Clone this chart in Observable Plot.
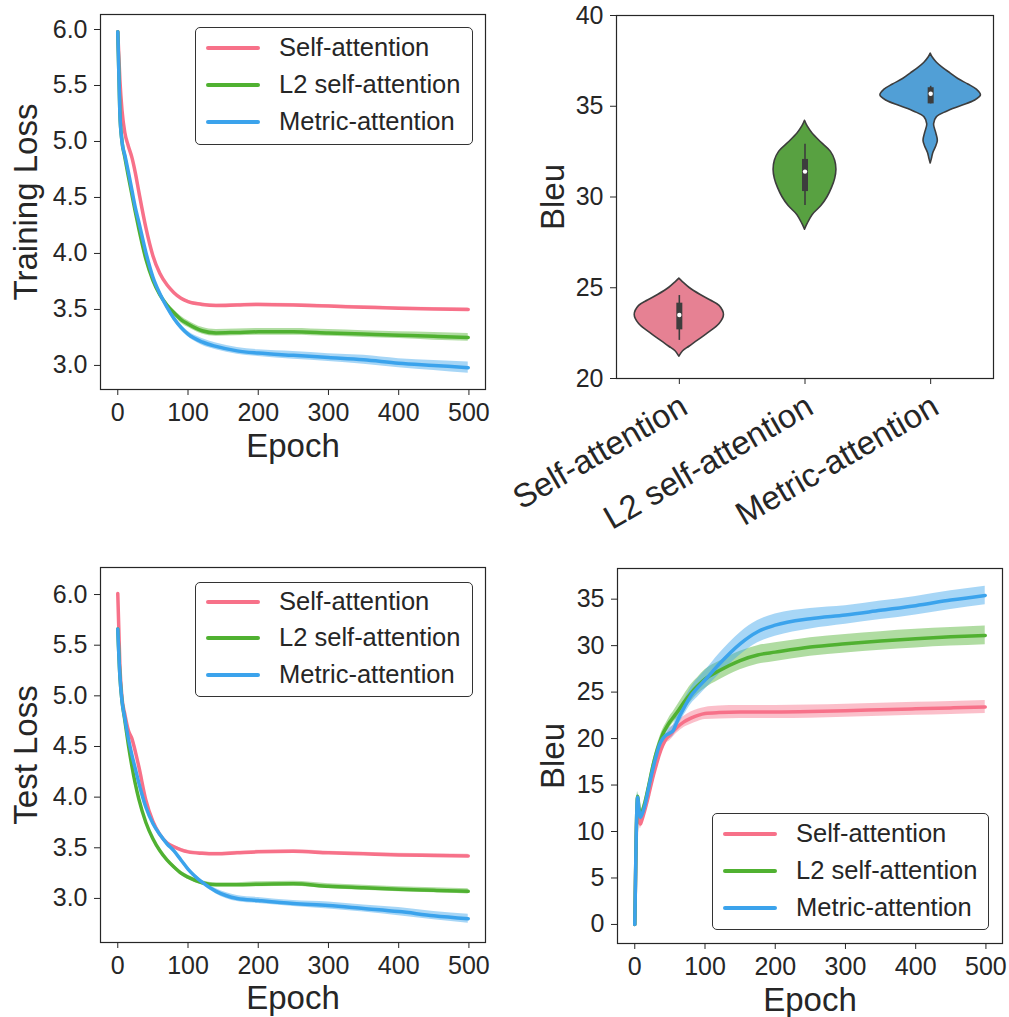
<!DOCTYPE html>
<html><head><meta charset="utf-8">
<script src="https://cdn.jsdelivr.net/npm/d3@7"></script>
<script src="https://cdn.jsdelivr.net/npm/@observablehq/plot@0.6"></script>
<style>
body{margin:0;background:#fff;}
#root{position:relative;width:1009px;height:1017px;overflow:hidden;font-family:"Liberation Sans",Arial,sans-serif;}
.panel{position:absolute;}
.legend{position:absolute;box-sizing:border-box;border:1.3px solid #333;border-radius:5px;background:rgba(255,255,255,0.85);}
.legend .sw{position:absolute;height:4px;margin-top:-2px;border-radius:2px;}
.legend .lab{position:absolute;font-size:25.5px;color:#262626;white-space:nowrap;line-height:1;transform:translateY(-50%);}
</style></head><body><div id="root"></div>
<script>
// ---------------- data ----------------
const seriesNames = ["Self-attention", "L2 self-attention", "Metric-attention"];
const seriesColors = ["#f77189", "#50b131", "#3ba3ec"];
const violinFills = ["#e68193", "#58a141", "#519fd6"];

const epochTicks = [0, 100, 200, 300, 400, 500];
const lossTicks = [3.0, 3.5, 4.0, 4.5, 5.0, 5.5, 6.0];
const bleuTicks = [0, 5, 10, 15, 20, 25, 30, 35];
const violinTicks = [20, 25, 30, 35, 40];

// Training loss
const trainEpochs = [0,3,6,10,15,20,25,30,40,50,60,70,80,90,100,120,140,170,200,250,300,350,400,450,499];
const trainSelf   = [5.98,5.55,5.28,5.08,4.96,4.86,4.72,4.55,4.23,3.98,3.82,3.72,3.65,3.60,3.57,3.545,3.535,3.54,3.545,3.54,3.53,3.52,3.51,3.505,3.50];
const trainL2     = [5.98,5.25,5.00,4.86,4.69,4.53,4.37,4.22,3.95,3.76,3.63,3.54,3.47,3.41,3.37,3.31,3.29,3.295,3.30,3.30,3.29,3.28,3.27,3.26,3.25];
const trainMetric = [5.98,5.25,5.00,4.88,4.73,4.57,4.41,4.28,4.01,3.79,3.64,3.52,3.42,3.34,3.28,3.21,3.17,3.13,3.11,3.09,3.07,3.05,3.02,3.00,2.98];
const trainSelfSd   = [0.01,0.01,0.01,0.01,0.01,0.01,0.01,0.01,0.012,0.012,0.012,0.012,0.012,0.012,0.012,0.012,0.012,0.012,0.012,0.012,0.012,0.012,0.012,0.012,0.012];
const trainL2Sd     = [0.01,0.01,0.01,0.01,0.01,0.01,0.01,0.01,0.015,0.02,0.02,0.025,0.025,0.03,0.03,0.03,0.03,0.03,0.03,0.03,0.03,0.03,0.03,0.035,0.035];
const trainMetricSd = [0.01,0.01,0.01,0.01,0.01,0.01,0.01,0.01,0.015,0.02,0.02,0.02,0.025,0.025,0.025,0.03,0.03,0.03,0.03,0.035,0.035,0.04,0.04,0.045,0.05];

// Test loss
const testEpochs = [0,3,6,10,15,20,25,30,40,50,60,70,80,90,100,120,140,170,200,250,300,350,400,450,499];
const testSelf   = [6.01,5.30,4.98,4.82,4.66,4.58,4.45,4.30,3.97,3.76,3.63,3.55,3.51,3.48,3.46,3.445,3.44,3.45,3.46,3.465,3.45,3.44,3.43,3.425,3.42];
const testL2     = [5.66,5.20,4.95,4.76,4.52,4.31,4.13,3.98,3.75,3.59,3.47,3.38,3.31,3.25,3.21,3.155,3.135,3.135,3.14,3.145,3.12,3.105,3.09,3.08,3.07];
const testMetric = [5.66,5.20,4.95,4.78,4.58,4.42,4.28,4.14,3.90,3.74,3.63,3.54,3.47,3.38,3.29,3.16,3.07,3.00,2.98,2.95,2.93,2.90,2.87,2.83,2.80];
const testSelfSd   = [0.01,0.01,0.01,0.01,0.01,0.01,0.01,0.01,0.015,0.015,0.015,0.015,0.015,0.015,0.015,0.015,0.015,0.015,0.015,0.015,0.015,0.015,0.015,0.015,0.015];
const testL2Sd     = [0.01,0.01,0.01,0.01,0.01,0.01,0.01,0.01,0.012,0.015,0.015,0.015,0.02,0.02,0.02,0.02,0.02,0.02,0.025,0.025,0.025,0.025,0.025,0.025,0.025];
const testMetricSd = [0.01,0.01,0.01,0.01,0.01,0.01,0.01,0.01,0.012,0.015,0.015,0.015,0.02,0.02,0.02,0.02,0.025,0.03,0.03,0.03,0.035,0.035,0.04,0.04,0.045];

// Bleu over epochs
const bleuEpochs = [0,2,4,6,8,10,15,20,25,30,35,40,45,50,55,60,70,80,90,100,120,150,175,200,250,300,350,400,450,499];
const bleuSelf   = [0,9.0,12.5,11.5,10.8,11.2,12.5,14.0,15.6,17.0,18.3,19.3,20.0,20.4,20.8,21.2,21.8,22.2,22.5,22.7,22.8,22.85,22.85,22.85,22.9,23.0,23.1,23.2,23.3,23.4];
const bleuL2     = [0,9.5,13.8,12.5,11.8,12.0,13.3,15.0,16.8,18.3,19.5,20.5,21.2,21.8,22.3,22.8,23.9,24.9,25.7,26.4,27.3,28.4,29.0,29.3,29.85,30.2,30.5,30.75,30.95,31.1];
const bleuMetric = [0,9.5,13.7,12.3,11.5,11.8,13.0,14.8,16.5,18.0,19.3,20.0,20.4,20.6,20.9,21.8,23.3,24.6,25.5,26.3,28.0,30.2,31.5,32.2,32.9,33.3,33.8,34.3,34.9,35.4];
const bleuSelfSd   = [0,0.3,0.5,0.5,0.5,0.5,0.5,0.5,0.5,0.5,0.5,0.5,0.5,0.6,0.6,0.6,0.6,0.65,0.65,0.65,0.7,0.7,0.7,0.7,0.7,0.7,0.7,0.7,0.7,0.7];
const bleuL2Sd     = [0,0.3,0.5,0.5,0.5,0.5,0.5,0.5,0.5,0.5,0.5,0.5,0.5,0.6,0.6,0.7,0.8,0.9,0.9,1.0,1.0,1.0,1.0,1.0,1.0,1.0,1.0,1.0,1.0,1.0];
const bleuMetricSd = [0,0.3,0.5,0.5,0.5,0.5,0.5,0.5,0.5,0.5,0.5,0.5,0.5,0.6,0.6,0.7,0.8,0.9,1.0,1.0,1.1,1.2,1.2,1.2,1.1,1.0,1.0,1.0,1.0,1.0];

// Violin (final Bleu distribution): density profile (value, half-width in category units)
const violinY = [
  [21.2,21.5,21.75,22.0,22.5,23.0,23.5,24.0,24.3,24.6,25.0,25.3,25.5],
  [28.2,28.5,29.0,29.5,30.0,30.5,31.0,31.5,32.0,32.5,33.0,33.5,33.9,34.2],
  [31.85,32.1,32.4,32.8,33.1,33.5,34.0,34.4,34.7,35.0,35.3,35.6,35.9,36.2,36.5,36.8,37.1,37.4,37.7,37.9]
];
const violinW = [
  [0,0.03,0.08,0.13,0.23,0.32,0.355,0.32,0.25,0.17,0.08,0.03,0],
  [0,0.02,0.06,0.13,0.18,0.215,0.24,0.25,0.24,0.205,0.13,0.06,0.02,0],
  [0,0.01,0.02,0.045,0.057,0.045,0.027,0.05,0.13,0.24,0.35,0.40,0.37,0.30,0.22,0.16,0.10,0.05,0.015,0]
];
const violinQ1 = [22.68, 30.3, 35.13];
const violinQ3 = [24.15, 32.07, 36.02];
const violinMedian = [23.5, 31.4, 35.69];
const violinLo = [22.1, 29.53, 35.13];
const violinHi = [24.57, 32.9, 36.1];

// ---------------- drawing ----------------
const FONT = '"Liberation Sans", Arial, sans-serif';
const INK = "#262626";
const epochDomain = [-24.6, 523.6];
const root = document.getElementById("root");

function buildRows(epochs, vals, sds) {
  const rows = [];
  seriesNames.forEach((s, k) => {
    epochs.forEach((e, i) => rows.push({series: s, epoch: e, value: vals[k][i], lo: vals[k][i] - sds[k][i], hi: vals[k][i] + sds[k][i]}));
  });
  return rows;
}

function place(el, left, top) {
  el.classList.add("panel");
  el.style.left = left + "px";
  el.style.top = top + "px";
  root.appendChild(el);
}

function yTitle(label, dx) {
  return Plot.text([label], {frameAnchor: "left", dx, rotate: -90, fontSize: 33, text: d => d, fill: INK, textAnchor: "middle", lineAnchor: "middle"});
}

function linePlot(o) {
  return Plot.plot({
    width: o.width, height: o.height,
    marginLeft: o.ml, marginRight: o.mr, marginTop: o.mt, marginBottom: o.mb,
    style: {fontFamily: FONT, color: INK, background: "transparent", overflow: "visible"},
    x: {domain: epochDomain},
    y: {domain: o.yDomain},
    color: {domain: seriesNames, range: seriesColors},
    marks: [
      Plot.areaY(o.rows, {x: "epoch", y1: "lo", y2: "hi", fill: "series", fillOpacity: 0.45, curve: "monotone-x"}),
      Plot.line(o.rows, {x: "epoch", y: "value", stroke: "series", strokeWidth: 3.5, curve: "monotone-x"}),
      Plot.frame({stroke: INK, strokeWidth: 1.2}),
      Plot.axisX(epochTicks, {tickSize: 6, tickPadding: 8, fontSize: 25, label: null, stroke: INK}),
      Plot.axisY(o.yTicks, {tickSize: 6, tickPadding: 7, fontSize: 25, label: null, stroke: INK, tickFormat: o.fmt}),
      yTitle(o.yLabel, o.ylx),
      Plot.text(["Epoch"], {frameAnchor: "bottom", dy: o.xly, fontSize: 33, text: d => d, fill: INK, textAnchor: "middle", lineAnchor: "middle"})
    ]
  });
}

function legend(left, top, w, h, rowYs) {
  const box = document.createElement("div");
  box.className = "legend";
  Object.assign(box.style, {left: left + "px", top: top + "px", width: w + "px", height: h + "px"});
  seriesNames.forEach((s, k) => {
    const sw = document.createElement("div");
    sw.className = "sw";
    Object.assign(sw.style, {left: "10px", width: "54px", top: rowYs[k] + "px", background: seriesColors[k]});
    const lab = document.createElement("div");
    lab.className = "lab";
    lab.textContent = s;
    Object.assign(lab.style, {left: "83px", top: rowYs[k] + "px"});
    box.appendChild(sw); box.appendChild(lab);
  });
  root.appendChild(box);
}

// Top-left: training loss
place(linePlot({
  width: 500, height: 470, ml: 100, mr: 15, mt: 14, mb: 81,
  yDomain: [2.785, 6.134], yTicks: lossTicks, fmt: d3.format(".1f"),
  yLabel: "Training Loss", ylx: -74, xly: 57,
  rows: buildRows(trainEpochs, [trainSelf, trainL2, trainMetric], [trainSelfSd, trainL2Sd, trainMetricSd])
}), 0, 0);

// Bottom-left: test loss
place(linePlot({
  width: 500, height: 477, ml: 100, mr: 15, mt: 27, mb: 75,
  yDomain: [2.565, 6.267], yTicks: lossTicks, fmt: d3.format(".1f"),
  yLabel: "Test Loss", ylx: -74, xly: 56,
  rows: buildRows(testEpochs, [testSelf, testL2, testMetric], [testSelfSd, testL2Sd, testMetricSd])
}), 0, 540);

// Bottom-right: Bleu over epochs
place(linePlot({
  width: 509, height: 477, ml: 117, mr: 7, mt: 28, mb: 74,
  yDomain: [-2.05, 38.3], yTicks: bleuTicks, fmt: d3.format("d"),
  yLabel: "Bleu", ylx: -64, xly: 57,
  rows: buildRows(bleuEpochs, [bleuSelf, bleuL2, bleuMetric], [bleuSelfSd, bleuL2Sd, bleuMetricSd])
}), 500, 540);

// Top-right: violin
(function () {
  const rows = [];
  seriesNames.forEach((c, i) => violinY[i].forEach((y, j) => rows.push({cat: c, y, x1: i - violinW[i][j], x2: i + violinW[i][j]})));
  const box = seriesNames.map((c, i) => ({cat: c, i, q1: violinQ1[i], q3: violinQ3[i], med: violinMedian[i], lo: violinLo[i], hi: violinHi[i]}));
  const el = Plot.plot({
    width: 509, height: 540, marginLeft: 116, marginRight: 16, marginTop: 15, marginBottom: 162,
    style: {fontFamily: FONT, color: INK, background: "transparent", overflow: "visible"},
    x: {domain: [-0.5, 2.5]},
    y: {domain: [20, 40]},
    color: {domain: seriesNames, range: violinFills},
    marks: [
      Plot.areaX(rows, {y: "y", x1: "x1", x2: "x2", z: "cat", fill: "cat", stroke: "#3d3d3d", strokeWidth: 1.6, curve: "catmull-rom"}),
      Plot.ruleX(box, {x: "i", y1: "lo", y2: "hi", stroke: "#3d3d3d", strokeWidth: 1.6}),
      Plot.ruleX(box, {x: "i", y1: "q1", y2: "q3", stroke: "#3d3d3d", strokeWidth: 6}),
      Plot.dot(box, {x: "i", y: "med", r: 2.2, fill: "white", stroke: null}),
      Plot.frame({stroke: INK, strokeWidth: 1.2}),
      Plot.axisX([0, 1, 2], {tickSize: 6, label: null, stroke: INK, tickFormat: () => ""}),
      Plot.axisX([0, 1, 2], {tickSize: 0, tickPadding: 25, dx: 5, fontSize: 33, label: null, tickRotate: -30, tickFormat: i => seriesNames[i]}),
      Plot.axisY(violinTicks, {tickSize: 6, tickPadding: 7, fontSize: 25, label: null, stroke: INK}),
      yTitle("Bleu", -63)
    ]
  });
  place(el, 500, 0);
})();

legend(195, 27, 278, 118, [20, 57, 94]);
legend(195, 582, 278, 115, [19, 55, 92]);
legend(712, 813, 277, 117, [20, 57, 94]);
</script></body></html>
